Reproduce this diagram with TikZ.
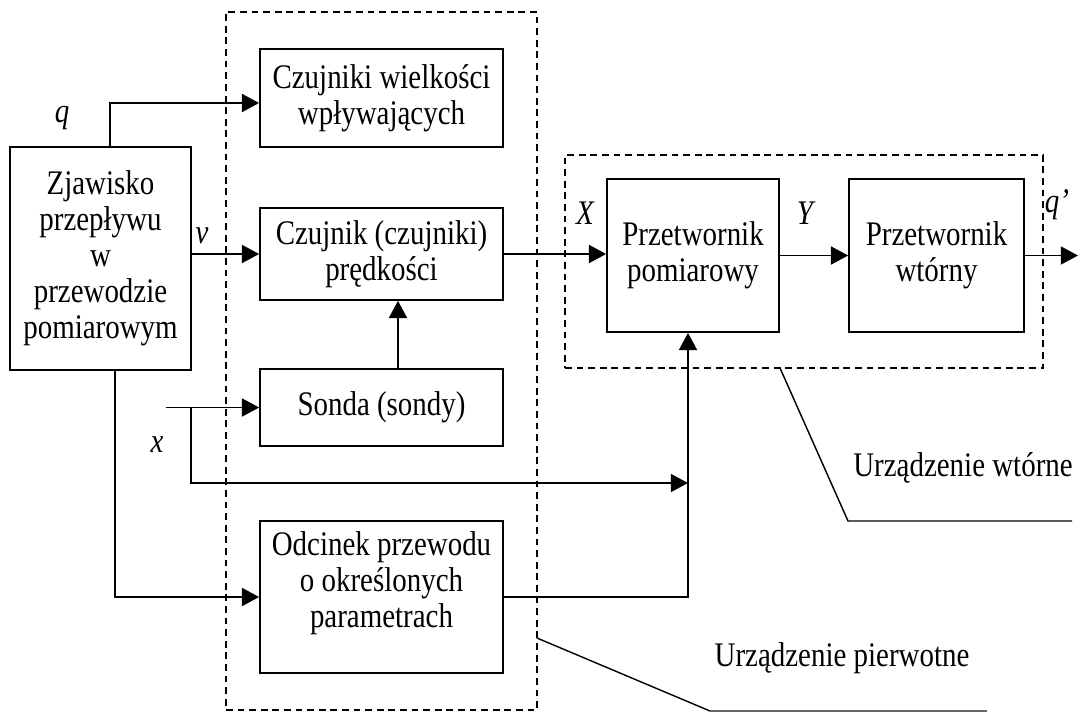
\documentclass[tikz,border=0pt]{standalone}
\usepackage{fontspec}
\setmainfont{Liberation Serif}[FakeStretch=0.84]
\usetikzlibrary{arrows.meta}
\begin{document}
\begin{tikzpicture}[x=0.025cm,y=-0.025cm,
  every node/.style={font=\fontsize{24.5}{25.6}\selectfont},
  box/.style={draw,line width=1.2pt,rectangle,inner sep=0pt,align=center},
  wire/.style={line width=1.3pt},
  arr/.style={wire,-{Triangle[length=0.43cm,width=0.45cm]}},
  dashbox/.style={draw,line width=1.3pt,dash pattern=on 0.17cm off 0.12cm,inner sep=0pt},
  lab/.style={font=\fontsize{24.5}{25.6}\selectfont\itshape}]
\useasboundingbox (0,0) rectangle (1082,713);
% dashed groups
\node[dashbox,minimum width=7.775cm,minimum height=17.45cm] (prim) at (381.5,361) {};
\node[dashbox,minimum width=11.95cm,minimum height=5.325cm] (sec) at (804,261.5) {};
% boxes
\node[box,minimum width=4.525cm,minimum height=5.575cm] (zj) at (100.5,258.5) {Zjawisko\\przepływu\\w\\przewodzie\\pomiarowym};
\node[box,minimum width=6.075cm,minimum height=2.45cm] (cw) at (381.5,98) {Czujniki wielkości\\wpływających};
\node[box,minimum width=6.075cm,minimum height=2.3cm] (cp) at (381.5,254) {Czujnik (czujniki)\\prędkości};
\node[box,minimum width=6.075cm,minimum height=1.925cm] (so) at (381.5,407.5) {Sonda (sondy)};
\node[box,minimum width=6.075cm,minimum height=3.8cm] (od) at (381.5,597) {};
\node[align=center] (odt) at (381.5,583) {Odcinek przewodu\\o określonych\\parametrach};
\node[box,minimum width=4.3cm,minimum height=3.825cm] (pp) at (693,255.5) {Przetwornik\\pomiarowy};
\node[box,minimum width=4.375cm,minimum height=3.825cm] (pw) at (936.5,255.5) {Przetwornik\\wtórny};
% labels
\node[lab] (lq) at (62,118) {q};
\node[lab] (lv) at (202,236) {v};
\node[lab] (lx) at (157,445) {x};
\node[lab] (lX) at (585,213) {X};
\node[lab] (lY) at (805,213) {Y};
\node[lab] (lq2) at (1057,205) {q’};
\node (uw) at (963,468) {Urządzenie wtórne};
\node (up) at (842,658) {Urządzenie pierwotne};
% coordinates
\coordinate (qb) at (110,103);
\coordinate (xin) at (166,407.5);
\coordinate (xb) at (191,407.5);
\coordinate (xc) at (191,483);
\coordinate (zb) at (115,370);
\coordinate (zc) at (115,597);
\coordinate (pv) at (688,597);
\coordinate (sx) at (398,0);
\coordinate (qout) at (1078,255.5);
\coordinate (l1a) at (780,368);
\coordinate (l1b) at (848,521);
\coordinate (l1c) at (1072,521);
\coordinate (l2a) at (537,638);
\coordinate (l2b) at (710,711);
\coordinate (l2c) at (987,711);
% connectors
\draw[arr] (zj.north -| qb) -- (qb) -- (qb -| cw.west);
\draw[arr] (zj.east |- cp.west) -- (cp.west);
\draw[arr] (cp.east) -- (pp.west |- cp.east);
\draw[arr] (pp.east) -- (pw.west);
\draw[arr] (pw.east) -- (qout);
\draw[arr] (so.north -| sx) -- (cp.south -| sx);
\draw[arr] (xin) -- (so.west |- xin);
\draw[arr] (xb) -- (xc) -- (xc -| pv);
\draw[arr] (zb) -- (zc) -- (od.west);
\draw[arr] (od.east) -- (pv) -- (pp.south -| pv);
% leaders
\draw[line width=1pt] (l1a) -- (l1b) -- (l1c);
\draw[line width=1pt] (l2a) -- (l2b);
\draw[line width=0.8pt,black!60] (l2b) -- (l2c);
\end{tikzpicture}
\end{document}
